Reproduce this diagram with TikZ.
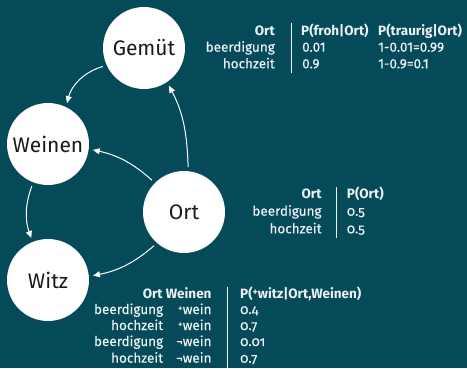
\documentclass[tikz,border=0pt]{standalone}
\usepackage{fontspec}
\setmainfont{Fira Sans}[Numbers=OldStyle]
\newfontfamily\tabfont{Fira Sans}[Numbers=OldStyle,FakeBold=0.3]
\usetikzlibrary{arrows.meta}
\definecolor{bg}{RGB}{4,74,89}
\definecolor{tx}{RGB}{236,242,244}
\newcommand\splus{\raisebox{.35ex}{\fontsize{10}{10}\selectfont +}}
\newcommand\lin[1]{{\addfontfeatures{Numbers=Lining}#1}}
\begin{document}
\begin{tikzpicture}[x=1pt,y=1pt,
  state/.style={circle,fill=white,minimum size=82pt,inner sep=0pt,text=black!90,font=\fontsize{21}{24}\selectfont},
  arr/.style={draw=white,line width=1pt,shorten <=4pt,shorten >=4pt,-{Triangle[length=7pt,width=6pt]}},
  tab/.style={text=tx,inner sep=0pt,font=\tabfont\fontsize{13.5}{16}\selectfont},
  hd/.style={text=tx,inner sep=0pt,font=\fontsize{13.5}{16}\selectfont\bfseries},
  rl/.style={anchor=base east},
  ll/.style={anchor=base west},
  rule/.style={draw=tx,line width=0.8pt}]
\fill[bg] (0,0) rectangle (467,368);
\useasboundingbox (0,0) rectangle (467,368);

% states
\node[state] (gem) at (144,320) {Gemüt};
\node[state] (wei) at (48,224) {Weinen};
\node[state] (ort) at (184,156) {Ort};
\node[state] (witz) at (48,88) {Witz};

% edges
\draw[arr] (gem.205) to[bend right=30] (wei.64);
\draw[arr] (wei.249) to[bend right=20] (witz.112);
\draw[arr] (ort.135) to[bend right=15] (wei.353);
\draw[arr] (ort.84) to[out=92,in=-62] (gem.304);
\draw[arr] (ort.229) to[bend left=15] (witz.5);

% table Gemuet
\node[hd,rl] (t1h1) at (275,333) {Ort};
\node[hd,ll] (t1h2) at (301,333) {P(froh|Ort)};
\node[hd,ll] (t1h3) at (378,333) {P(traurig|Ort)};
\node[tab,rl] (t1a1) at (275,316.3) {beerdigung};
\node[tab,ll] (t1a2) at (302,316.3) {\lin{0.01}};
\node[tab,ll] (t1a3) at (378,316.3) {\lin{1-0.01=0.99}};
\node[tab,rl] (t1b1) at (275,299.7) {hochzeit};
\node[tab,ll] (t1b2) at (302,299.7) {\lin{0.9}};
\node[tab,ll] (t1b3) at (378,299.7) {\lin{1-0.9=0.1}};
\coordinate (t1r1) at (291,345);
\coordinate (t1r2) at (291,295);
\draw[rule] (t1r1) -- (t1r2);

% table Ort
\node[hd,rl] (t2h1) at (321.7,169.7) {Ort};
\node[hd,ll] (t2h2) at (346.7,169.7) {P(Ort)};
\node[tab,rl] (t2a1) at (321.7,152.3) {beerdigung};
\node[tab,ll] (t2a2) at (346.7,152.3) {0.5};
\node[tab,rl] (t2b1) at (321.7,134.7) {hochzeit};
\node[tab,ll] (t2b2) at (346.7,134.7) {0.5};
\coordinate (t2r1) at (336.7,181);
\coordinate (t2r2) at (336.7,130);
\draw[rule] (t2r1) -- (t2r2);

% table Witz
\node[hd,rl] (t3h1) at (211.7,69.7) {Ort Weinen};
\node[hd,ll] (t3h2) at (240,69.7) {P(\splus witz|Ort,Weinen)};
\node[tab,rl] (t3a1) at (163.3,54) {beerdigung};
\node[tab,rl] (t3a2) at (211.7,54) {\splus wein};
\node[tab,ll] (t3a3) at (240,54) {0.4};
\node[tab,rl] (t3b1) at (163.3,38) {hochzeit};
\node[tab,rl] (t3b2) at (211.7,38) {\splus wein};
\node[tab,ll] (t3b3) at (240,38) {0.7};
\node[tab,rl] (t3c1) at (163.3,22) {beerdigung};
\node[tab,rl] (t3c2) at (211.7,22) {¬wein};
\node[tab,ll] (t3c3) at (240,22) {0.01};
\node[tab,rl] (t3d1) at (163.3,5.3) {hochzeit};
\node[tab,rl] (t3d2) at (211.7,5.3) {¬wein};
\node[tab,ll] (t3d3) at (240,5.3) {0.7};
\coordinate (t3r1) at (227.7,81);
\coordinate (t3r2) at (227.7,0);
\draw[rule] (t3r1) -- (t3r2);
\end{tikzpicture}
\end{document}
